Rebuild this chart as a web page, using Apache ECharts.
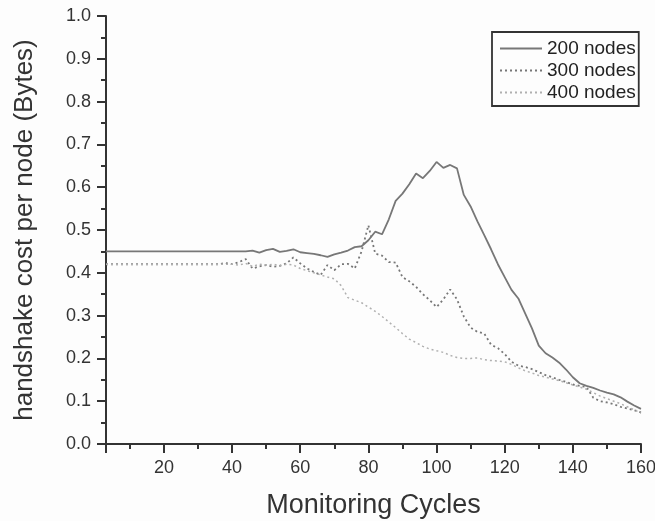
<!DOCTYPE html>
<html>
<head>
<meta charset="utf-8">
<script src="https://cdn.jsdelivr.net/npm/echarts@6/dist/echarts.min.js"></script>
<style>
html,body{margin:0;padding:0;background:#fdfdfd;}
#chart{width:655px;height:521px;}
</style>
</head>
<body>
<div id="chart"></div>
<script>
var seriesNames = ['200 nodes', '300 nodes', '400 nodes'];
var cycles = [3, 4, 6, 8, 10, 12, 14, 16, 18, 20, 22, 24, 26, 28, 30, 32, 34, 36, 38, 40,
  42, 44, 46, 48, 50, 52, 54, 56, 58, 60, 62, 64, 66, 68, 70, 72, 74, 76, 78, 80,
  82, 84, 86, 88, 90, 92, 94, 96, 98, 100, 102, 104, 106, 108, 110, 112, 114, 116, 118, 120,
  122, 124, 126, 128, 130, 132, 134, 136, 138, 140, 142, 144, 146, 148, 150, 152, 154, 156, 158, 160];
var nodes200 = [0.45, 0.45, 0.45, 0.45, 0.45, 0.45, 0.45, 0.45, 0.45, 0.45, 0.45, 0.45, 0.45, 0.45, 0.45, 0.45, 0.45, 0.45, 0.45, 0.45,
  0.45, 0.45, 0.452, 0.447, 0.453, 0.456, 0.449, 0.451, 0.455, 0.448, 0.446, 0.444, 0.441, 0.437, 0.443, 0.447, 0.452, 0.46, 0.462, 0.476,
  0.496, 0.49, 0.525, 0.568, 0.585, 0.607, 0.632, 0.621, 0.638, 0.659, 0.645, 0.652, 0.644, 0.582, 0.555, 0.52, 0.488, 0.455, 0.42, 0.39,
  0.36, 0.34, 0.305, 0.27, 0.23, 0.212, 0.202, 0.19, 0.174, 0.156, 0.142, 0.136, 0.131, 0.125, 0.12, 0.116, 0.109, 0.099, 0.09, 0.082];
var nodes300 = [0.42, 0.42, 0.42, 0.42, 0.42, 0.42, 0.42, 0.42, 0.42, 0.42, 0.42, 0.42, 0.42, 0.42, 0.42, 0.42, 0.42, 0.42, 0.423, 0.42,
  0.425, 0.432, 0.41, 0.415, 0.418, 0.414, 0.416, 0.422, 0.436, 0.422, 0.41, 0.402, 0.395, 0.418, 0.406, 0.42, 0.421, 0.41, 0.45, 0.511,
  0.445, 0.44, 0.425, 0.424, 0.39, 0.38, 0.367, 0.35, 0.336, 0.32, 0.338, 0.361, 0.338, 0.298, 0.272, 0.262, 0.258, 0.232, 0.224, 0.21,
  0.192, 0.183, 0.18, 0.175, 0.168, 0.161, 0.156, 0.15, 0.145, 0.139, 0.136, 0.133, 0.108, 0.1, 0.097, 0.093, 0.087, 0.083, 0.079, 0.074];
var nodes400 = [0.42, 0.42, 0.42, 0.42, 0.42, 0.42, 0.42, 0.42, 0.42, 0.42, 0.42, 0.42, 0.42, 0.42, 0.42, 0.42, 0.42, 0.42, 0.42, 0.42,
  0.418, 0.422, 0.415, 0.42, 0.418, 0.42, 0.417, 0.42, 0.418, 0.41, 0.405, 0.4, 0.395, 0.39, 0.386, 0.37, 0.342, 0.336, 0.33, 0.32,
  0.31, 0.298, 0.285, 0.272, 0.258, 0.245, 0.237, 0.228, 0.222, 0.218, 0.214, 0.207, 0.202, 0.2, 0.2, 0.201, 0.197, 0.195, 0.194, 0.192,
  0.186, 0.178, 0.171, 0.166, 0.16, 0.156, 0.152, 0.148, 0.143, 0.138, 0.133, 0.128, 0.12, 0.112, 0.106, 0.1, 0.094, 0.087, 0.08, 0.072];
var xMin = 3, xMax = 160, xSplits = 8;

function pairs(xs, ys) { return xs.map(function (x, i) { return [x, ys[i]]; }); }

var chart = echarts.init(document.getElementById('chart'));
var font = 'Liberation Sans, Arial, sans-serif';
var axisColor = '#333';
chart.setOption({
  backgroundColor: '#fdfdfd',
  animation: false,
  grid: { left: 106, right: 14, top: 16, bottom: 77, containLabel: false, outerBoundsMode: 'none' },
  legend: {
    orient: 'vertical', left: 492, top: 32,
    data: seriesNames,
    borderColor: '#333', borderWidth: 1.8,
    padding: [7, 3, 4, 7],
    itemWidth: 42, itemHeight: 16, itemGap: 3,
    itemStyle: { opacity: 0 },
    textStyle: { fontFamily: font, fontSize: 19, color: '#222' }
  },
  xAxis: {
    type: 'value', min: xMin, max: xMax, splitNumber: xSplits,
    name: 'Monitoring Cycles', nameLocation: 'middle', nameGap: 48,
    nameTextStyle: { fontFamily: font, fontSize: 27, color: '#333' },
    axisLine: { show: true, onZero: false, lineStyle: { color: axisColor, width: 2 } },
    axisTick: { show: true, length: 9, lineStyle: { color: axisColor, width: 2 } },
    minorTick: { show: true, splitNumber: 2, length: 5, lineStyle: { color: axisColor, width: 2 } },
    axisLabel: { showMinLabel: false, margin: 15, fontFamily: font, fontSize: 18, color: '#333' },
    splitLine: { show: false }
  },
  yAxis: {
    type: 'value', min: 0, max: 1, interval: 0.1,
    name: 'handshake cost per node (Bytes)', nameLocation: 'middle', nameGap: 68,
    nameTextStyle: { fontFamily: font, fontSize: 26, color: '#333' },
    axisLine: { show: true, lineStyle: { color: axisColor, width: 2 } },
    axisTick: { show: true, length: 9, lineStyle: { color: axisColor, width: 2 } },
    minorTick: { show: true, splitNumber: 2, length: 5, lineStyle: { color: axisColor, width: 2 } },
    axisLabel: { margin: 15, fontFamily: font, fontSize: 18, color: '#333',
      formatter: function (v) { return v.toFixed(1); } },
    splitLine: { show: false }
  },
  series: [{
    name: seriesNames[0], type: 'line', symbol: 'none',
    data: pairs(cycles, nodes200),
    lineStyle: { color: '#777', width: 1.8, type: 'solid' }, itemStyle: { color: '#777' }
  }, {
    name: seriesNames[1], type: 'line', symbol: 'none',
    data: pairs(cycles, nodes300),
    lineStyle: { color: '#777', width: 1.8, type: [2, 3] }, itemStyle: { color: '#777' }
  }, {
    name: seriesNames[2], type: 'line', symbol: 'none',
    data: pairs(cycles, nodes400),
    lineStyle: { color: '#b0b0b0', width: 1.5, type: [2, 3] }, itemStyle: { color: '#b0b0b0' }
  }]
});
</script>
</body>
</html>
